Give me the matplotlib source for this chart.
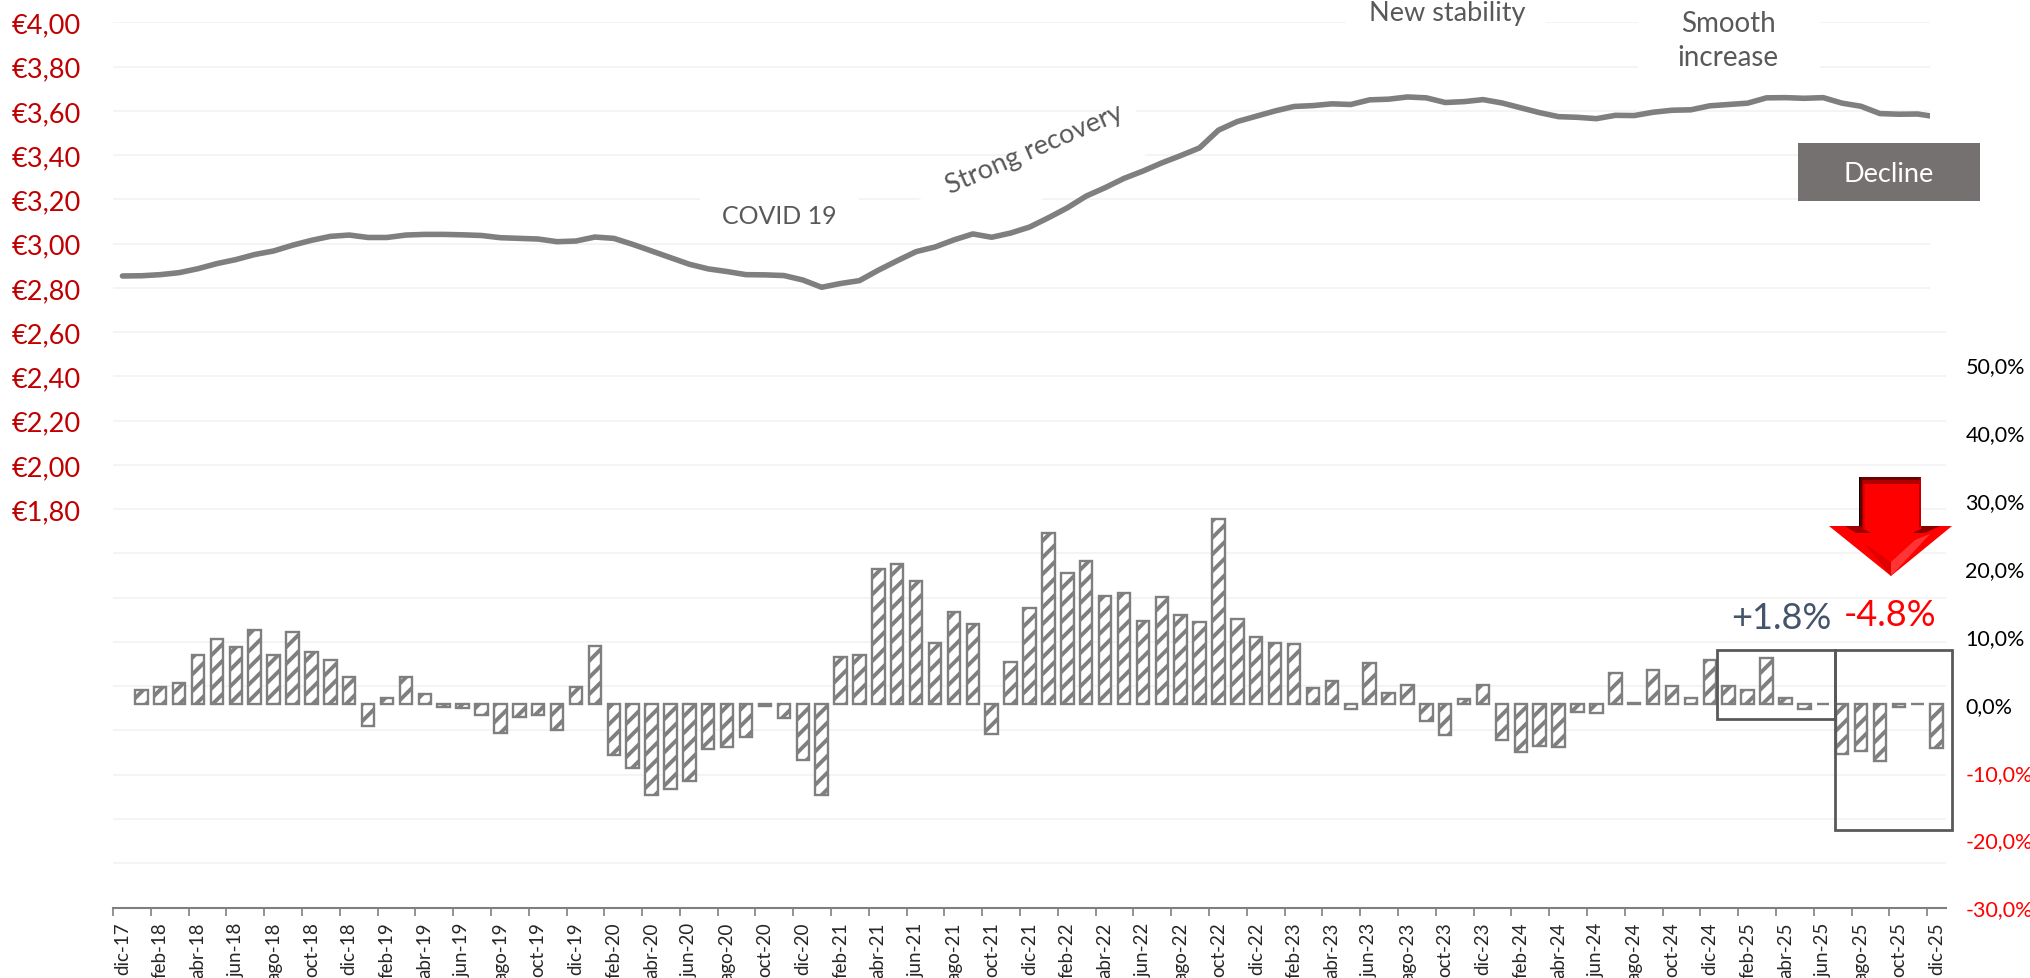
import numpy as np
import matplotlib
matplotlib.use('Agg')
import matplotlib.pyplot as plt
from matplotlib.patches import Polygon, Rectangle
from matplotlib.transforms import Affine2D

plt.rcParams['font.family'] = ['Lato', 'DejaVu Sans']
plt.rcParams['hatch.linewidth'] = 2.8

W, H = 2031, 979

month_names = ['ene', 'feb', 'mar', 'abr', 'may', 'jun', 'jul', 'ago', 'sep', 'oct', 'nov', 'dic']

# monthly, dic-17 to dic-25
price = [
    2.854, 2.855, 2.860, 2.869, 2.887, 2.910, 2.928, 2.951, 2.967, 2.993, 3.015, 3.033, 3.039,
    3.028, 3.028, 3.039, 3.042, 3.042, 3.040, 3.037, 3.027, 3.024, 3.021, 3.009, 3.012,
    3.030, 3.024, 2.997, 2.967, 2.937, 2.907, 2.886, 2.874, 2.860, 2.859, 2.856, 2.836,
    2.803, 2.820, 2.833, 2.880, 2.923, 2.964, 2.985, 3.017, 3.044, 3.029, 3.048, 3.075,
    3.117, 3.162, 3.215, 3.253, 3.295, 3.328, 3.365, 3.398, 3.433, 3.513, 3.552, 3.576,
    3.600, 3.620, 3.624, 3.632, 3.629, 3.650, 3.653, 3.663, 3.659, 3.638, 3.642, 3.651,
    3.636, 3.614, 3.592, 3.574, 3.571, 3.565, 3.580, 3.579, 3.594, 3.603, 3.605, 3.623,
    3.629, 3.635, 3.659, 3.660, 3.657, 3.660, 3.635, 3.621, 3.588, 3.585, 3.586, 3.573,
]

change = [
    np.nan, 2.0, 2.4, 3.0, 7.1, 9.5, 8.4, 10.8, 7.2, 10.6, 7.6, 6.5, 3.9,
    -3.3, 0.9, 4.0, 1.4, -0.45, -0.6, -1.6, -4.3, -1.9, -1.6, -3.8, 2.4,
    8.5, -7.5, -9.4, -13.4, -12.6, -11.4, -6.7, -6.4, -4.9, -0.4, -2.1, -8.3,
    -13.5, 6.9, 7.2, 19.9, 20.5, 18.1, 8.9, 13.5, 11.8, -4.4, 6.2, 14.1,
    25.2, 19.2, 21.0, 15.9, 16.3, 12.2, 15.7, 13.1, 12.0, 27.2, 12.5, 9.8,
    9.0, 8.8, 2.3, 3.3, -0.8, 6.0, 1.6, 2.7, -2.5, -4.6, 0.7, 2.7,
    -5.4, -7.1, -6.2, -6.3, -1.2, -1.4, 4.5, 0.1, 4.9, 2.6, 0.9, 6.5,
    2.6, 2.0, 6.8, 0.9, -0.8, -0.1, -7.4, -7.0, -8.5, -0.5, -0.1, -6.5,
]

price_ticks = [round(0.2 * i, 1) for i in range(21)]
pct_ticks = [-30, -20, -10, 0, 10, 20, 30, 40, 50]

months = ['dic-17'] + [f'{m}-{y}' for y in range(18, 26) for m in month_names]
x = np.arange(len(months))

GREY = '#7f7f7f'
TEXT = '#595959'

fig = plt.figure(figsize=(W / 100, H / 100), dpi=100, facecolor='white')
ax = fig.add_axes([113 / W, 1 - 908.5 / H, (1946 - 113) / W, (908.5 - 23.4) / H])
ax2 = ax.twinx()

# top-left pixel coordinates, for the shapes laid over the chart
px = Affine2D().scale(1 / W, -1 / H).translate(0, 1) + fig.transFigure

ax.set_xlim(-0.5, len(months) - 0.5)
ax.set_ylim(0, 4)
ax.set_yticks(price_ticks)
ax.set_yticklabels([f'€{p:.2f}'.replace('.', ',') if p >= 1.8 else '' for p in price_ticks],
                   fontsize=19.5, color='#c00000')
ax.tick_params(axis='y', length=0, pad=23)
ax.set_axisbelow(True)
ax.grid(axis='y', color='#f2f2f2', lw=1.2)

# boundary ticks, labels sit on the month itself
ax.set_xticks(x[::2] - 0.5)
ax.set_xticklabels([])
ax.set_xticks(x[::2], minor=True)
ax.set_xticklabels(months[::2], minor=True, rotation=90, fontsize=13.5, color='#262626')
ax.tick_params(axis='x', which='major', length=6, width=1.2, color=GREY)
ax.tick_params(axis='x', which='minor', length=0, pad=10)

for s in ['top', 'left', 'right']:
    ax.spines[s].set_visible(False)
    ax2.spines[s].set_visible(False)
ax.spines['bottom'].set_color(GREY)
ax.spines['bottom'].set_linewidth(1.5)
ax2.spines['bottom'].set_visible(False)

# white text boxes cutting the gridlines
white_boxes = [
    [(700, 175), (859, 175), (859, 238), (700, 238)],
    [(905, 207), (1131, 102), (1155, 152), (925, 250)],
    [(1346, 0), (1546, 0), (1546, 50), (1346, 50)],
    [(1638, 0), (1820, 0), (1820, 95), (1638, 95)],
]
for box in white_boxes:
    ax.add_patch(Polygon(box, closed=True, transform=px, fc='white', ec='none', zorder=1.5, clip_on=False))

ax.plot(x, price, color=GREY, lw=4, solid_capstyle='round', solid_joinstyle='round', zorder=2)

ax.add_patch(Rectangle((1930, 0), 101, 310, transform=px, fc='white', ec='none', zorder=3, clip_on=False))

ax2.set_ylim(-30, 100.3)
ax2.bar(x, change, width=0.66, facecolor='white', edgecolor=GREY, hatch='//', linewidth=1.7, zorder=2)
ax2.set_yticks(pct_ticks)
ax2.set_yticklabels([f'{p:.1f}%'.replace('.', ',') for p in pct_ticks], fontsize=15.5)
for lab, p in zip(ax2.get_yticklabels(), pct_ticks):
    lab.set_color('#ff0000' if p < 0 else 'black')
ax2.tick_params(axis='y', length=0, pad=14)

# annotations
fig.text(779, 217, 'COVID 19', transform=px, fontsize=18, color=TEXT, ha='center', va='center')
fig.text(1034, 150, 'Strong recovery', transform=px, fontsize=19.5, color=TEXT, ha='center', va='center',
         rotation=23.5, rotation_mode='anchor')
fig.text(1447, 13, 'New stability', transform=px, fontsize=19.5, color=TEXT, ha='center', va='center')
fig.text(1728, 41, 'Smooth\nincrease', transform=px, fontsize=20, color=TEXT, ha='center', va='center',
         linespacing=1.4)

fig.add_artist(Rectangle((1798, 144), 182, 58, transform=px, fc='#767171', ec='none'))
fig.text(1889, 174, 'Decline', transform=px, fontsize=19.5, color='white', ha='center', va='center')

fig.text(1781, 619, '+1.8%', transform=px, fontsize=26, color='#44546a', ha='center', va='center')
fig.text(1890, 616, '-4.8%', transform=px, fontsize=26, color='#ff0000', ha='center', va='center')

fig.add_artist(Rectangle((1717, 650.5), 117.5, 69.5, transform=px, fc='none', ec='#595959', lw=2))
fig.add_artist(Rectangle((1834.5, 650.5), 117.5, 180, transform=px, fc='none', ec='#595959', lw=2))

# red arrow with its bevels
arrow_parts = [
    ([(1829, 527), (1952, 527), (1891, 577)], '#ff0000'),
    ([(1845, 527), (1859, 527), (1871, 534), (1856, 534)], '#a00000'),
    ([(1921, 527), (1940, 527), (1925, 534), (1912, 534)], '#8c0000'),
    ([(1891, 577), (1891, 563), (1915, 541), (1930, 535)], '#ff3434'),
    ([(1891, 577), (1891, 563), (1865, 545)], '#e00000'),
    ([(1859, 478), (1921, 478), (1921, 530), (1912, 534), (1871, 534), (1859, 527)], '#ff0000'),
    ([(1859, 478), (1921, 478), (1921, 481), (1859, 481)], '#6e0000'),
    ([(1859, 481), (1921, 481), (1921, 485), (1864, 485)], '#b00000'),
    ([(1859, 478), (1860.5, 478), (1860.5, 528), (1859, 527)], '#100000'),
    ([(1860.5, 478), (1862, 481), (1862, 529), (1860.5, 528)], '#500000'),
    ([(1862, 481), (1863.5, 483), (1863.5, 530), (1862, 529)], '#a00000'),
    ([(1863.5, 483), (1865, 485), (1865, 531), (1863.5, 530)], '#e00000'),
    ([(1919, 481), (1921, 478), (1921, 527), (1919, 529)], '#c00000'),
]
for pts, colour in arrow_parts:
    fig.add_artist(Polygon(pts, closed=True, transform=px, fc=colour, ec='none'))

fig.savefig('out.png', dpi=100)
